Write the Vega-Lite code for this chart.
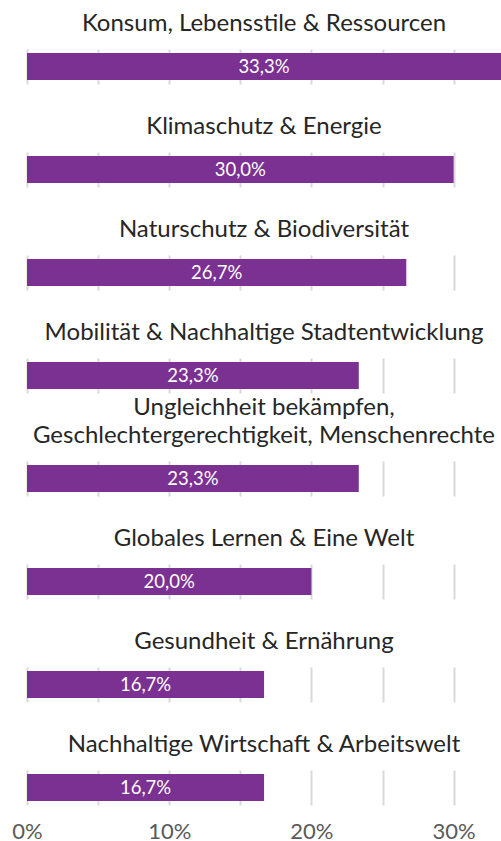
{
  "$schema": "https://vega.github.io/schema/vega-lite/v6.json",
  "autosize": {"type": "pad"},
  "padding": {"left": 11, "top": 12, "right": 0, "bottom": 0},
  "data": {
    "values": [
      {"order": 1, "cat": "Konsum, Lebensstile & Ressourcen", "value": 0.3333},
      {"order": 2, "cat": "Klimaschutz & Energie", "value": 0.3},
      {"order": 3, "cat": "Naturschutz & Biodiversität", "value": 0.2667},
      {"order": 4, "cat": "Mobilität & Nachhaltige Stadtentwicklung", "value": 0.2333},
      {"order": 5, "cat": "Ungleichheit bekämpfen,\nGeschlechtergerechtigkeit, Menschenrechte", "value": 0.2333},
      {"order": 6, "cat": "Globales Lernen & Eine Welt", "value": 0.2},
      {"order": 7, "cat": "Gesundheit & Ernährung", "value": 0.1667},
      {"order": 8, "cat": "Nachhaltige Wirtschaft & Arbeitswelt", "value": 0.1667}
    ]
  },
  "facet": {
    "row": {
      "field": "cat",
      "type": "nominal",
      "sort": {"field": "order", "op": "min"},
      "title": null,
      "header": {
        "labelOrient": "top",
        "labelAngle": 0,
        "labelAlign": "center",
        "labelAnchor": "middle",
        "labelBaseline": "middle",
        "labelFont": "Lato",
        "labelFontSize": 24,
        "labelLineHeight": 28,
        "labelColor": "#262626",
        "labelPadding": 1,
        "labelExpr": "split(datum.value, '\\n')"
      }
    }
  },
  "spacing": {"row": 3},
  "spec": {
    "width": 474,
    "height": 35,
    "layer": [
      {
        "mark": {"type": "bar", "color": "#7A3192", "height": 27},
        "encoding": {
          "x": {
            "field": "value",
            "type": "quantitative",
            "scale": {"domain": [0, 0.3333], "nice": false},
            "axis": {
              "values": [0, 0.05, 0.1, 0.15, 0.2, 0.25, 0.3],
              "format": ".0%",
              "labelExpr": "round(datum.value * 100) % 10 == 0 ? datum.label : ''",
              "title": null,
              "domain": false,
              "ticks": false,
              "grid": true,
              "gridColor": "#D9D9D9",
              "gridWidth": 2,
              "labelFont": "Lato",
              "labelFontSize": 22,
              "labelColor": "#595959",
              "labelPadding": 16,
              "labelFlush": false
            }
          }
        }
      },
      {
        "transform": [{"calculate": "datum.value / 2", "as": "mid"}],
        "mark": {"type": "text", "color": "white", "font": "Lato", "fontSize": 18.5, "baseline": "middle", "align": "center"},
        "encoding": {
          "x": {"field": "mid", "type": "quantitative"},
          "text": {"field": "value", "type": "quantitative", "format": ".1%"}
        }
      }
    ]
  },
  "config": {
    "locale": {"number": {"decimal": ",", "thousands": ".", "grouping": [3], "currency": ["", " €"]}},
    "view": {"stroke": null}
  }
}
